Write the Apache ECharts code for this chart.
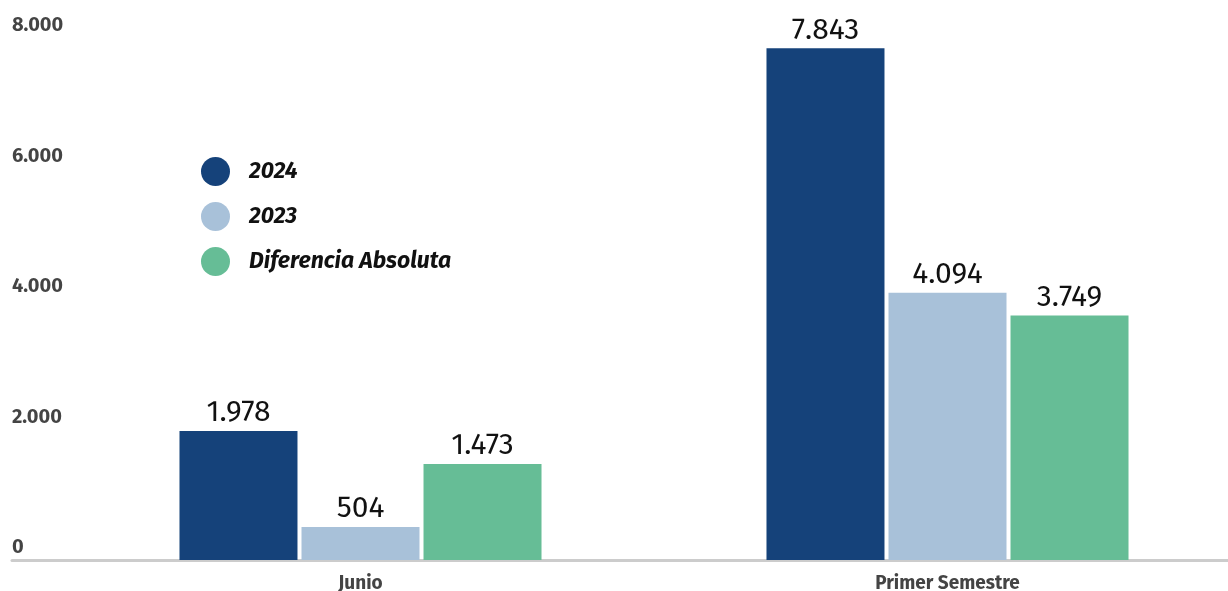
<!DOCTYPE html>
<html>
<head>
<meta charset="utf-8">
<script src="https://cdn.jsdelivr.net/npm/echarts@6/dist/echarts.min.js"></script>
<style>
  html, body { margin: 0; padding: 0; background: #fff; }
  #chart { width: 1228px; height: 591px; }
</style>
</head>
<body>
<div id="chart"></div>
<script>
// categorias y valores
const categorias = ['Junio', 'Primer Semestre'];
const serie2024 = [1978, 7843];
const serie2023 = [504, 4094];
const diferencia = [1473, 3749];
const ticksY = [0, 2000, 4000, 6000, 8000];

const fuente = 'Fira Sans, Roboto, Noto Sans, sans-serif';
const colores = ['#15427a', '#a8c1d9', '#66bd96'];

// separador de miles con punto
function miles(v) {
  return String(v).replace(/\B(?=(\d{3})+(?!\d))/g, '.');
}

const etiqueta = {
  show: true,
  position: 'top',
  distance: 3,
  color: '#111',
  fontSize: 30,
  fontFamily: fuente,
  formatter: p => miles(p.value)
};

const chart = echarts.init(document.getElementById('chart'));
const option = {
  animation: false,
  color: colores,
  legend: {
    orient: 'vertical',
    left: 196,
    top: 152,
    icon: 'circle',
    itemWidth: 29,
    itemHeight: 29,
    itemGap: 16,
    textStyle: {
      fontFamily: fuente,
      fontSize: 23,
      fontWeight: 'bold',
      fontStyle: 'italic',
      color: '#111',
      padding: [0, 0, 0, 14]
    },
    data: ['2024', '2023', 'Diferencia Absoluta']
  },
  grid: [
    { left: 67, width: 1174, top: 38, bottom: 31, outerBoundsMode: 'none' },
    { left: 12, right: 0, top: 38, bottom: 31, outerBoundsMode: 'none' }
  ],
  xAxis: [
    {
      type: 'category',
      gridIndex: 0,
      data: categorias,
      axisLine: { show: false },
      axisTick: { show: false },
      axisLabel: {
        margin: 14,
        fontFamily: fuente,
        fontSize: 19,
        fontWeight: 'bold',
        color: '#444'
      }
    },
    {
      // solo la linea base
      type: 'category',
      gridIndex: 1,
      data: [''],
      axisLine: { show: true, lineStyle: { color: '#cccccc', width: 3 } },
      axisTick: { show: false },
      axisLabel: { show: false }
    }
  ],
  yAxis: [
    {
      type: 'value',
      gridIndex: 0,
      min: 0,
      max: 8000,
      interval: 2000,
      splitLine: { show: false },
      axisLine: { show: false },
      axisTick: { show: false },
      axisLabel: {
        align: 'left',
        margin: 55,
        verticalAlign: 'bottom',
        lineHeight: 25,
        fontFamily: fuente,
        fontSize: 20,
        fontWeight: 'bold',
        color: '#444',
        formatter: v => ticksY.includes(v) ? miles(v) : ''
      }
    },
    {
      type: 'value',
      gridIndex: 1,
      show: false
    }
  ],
  series: [
    { name: '2024', type: 'bar', data: serie2024, barWidth: 118, barGap: '3.4%', label: etiqueta },
    { name: '2023', type: 'bar', data: serie2023, barWidth: 118, barGap: '3.4%', label: etiqueta },
    { name: 'Diferencia Absoluta', type: 'bar', data: diferencia, barWidth: 118, barGap: '3.4%', label: etiqueta }
  ]
};
chart.setOption(option);
</script>
</body>
</html>
